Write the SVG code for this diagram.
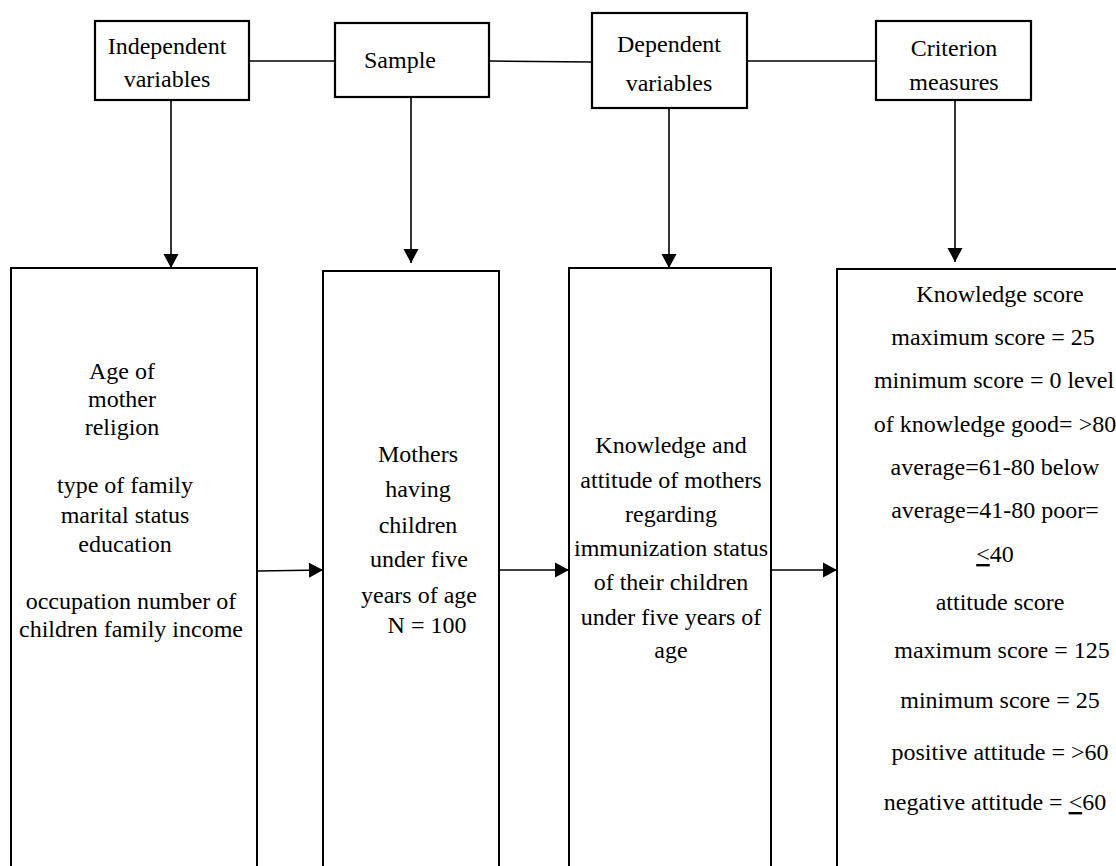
<svg xmlns="http://www.w3.org/2000/svg" width="1116" height="866" viewBox="0 0 1116 866">
<style>
.box{fill:#fff;stroke:#000;stroke-width:2.2}
.big{fill:#fff;stroke:#000;stroke-width:2}
.ln{fill:none;stroke:#000;stroke-width:1.6}
text{font-family:"Liberation Serif","Times New Roman",serif;font-size:24px;fill:#000;text-anchor:middle}
.u{text-decoration:underline}
</style>
<defs>
<marker id="ah" markerUnits="userSpaceOnUse" markerWidth="16" markerHeight="16" viewBox="0 0 16 16" refX="15" refY="8" orient="auto">
<path d="M1,0.5 L15,8 L1,15.5 Z" fill="#000"/>
</marker>
</defs>
<g id="connectors">
<line class="ln" x1="249" y1="61" x2="335" y2="61"/>
<line class="ln" x1="489" y1="61" x2="592" y2="62"/>
<line class="ln" x1="747" y1="61" x2="876" y2="61"/>
<line class="ln" x1="171" y1="100" x2="171" y2="268" marker-end="url(#ah)"/>
<line class="ln" x1="411" y1="97" x2="411" y2="263" marker-end="url(#ah)"/>
<line class="ln" x1="669" y1="108" x2="669" y2="268" marker-end="url(#ah)"/>
<line class="ln" x1="955" y1="100" x2="955" y2="262" marker-end="url(#ah)"/>
<line class="ln" x1="257" y1="571" x2="323" y2="570" marker-end="url(#ah)"/>
<line class="ln" x1="499" y1="570" x2="569" y2="570" marker-end="url(#ah)"/>
<line class="ln" x1="771" y1="570" x2="837" y2="570" marker-end="url(#ah)"/>
</g>
<g id="independent">
<rect class="box" x="95" y="21" width="154" height="79"/>
<text x="167" y="54">Independent</text>
<text x="167" y="87">variables</text>
</g>
<g id="sample">
<rect class="box" x="335" y="23" width="154" height="74"/>
<text x="400" y="68">Sample</text>
</g>
<g id="dependent">
<rect class="box" x="592" y="13" width="155" height="95"/>
<text x="669" y="52">Dependent</text>
<text x="669" y="91">variables</text>
</g>
<g id="criterion">
<rect class="box" x="876" y="21" width="155" height="79"/>
<text x="954" y="56">Criterion</text>
<text x="954" y="90">measures</text>
</g>
<g id="independent-list">
<rect class="big" x="11" y="268" width="246" height="640"/>
<text x="122" y="379">Age of</text>
<text x="122" y="407">mother</text>
<text x="122" y="435">religion</text>
<text x="125" y="493">type of family</text>
<text x="125" y="523">marital status</text>
<text x="125" y="552">education</text>
<text x="131" y="609">occupation number of</text>
<text x="131" y="637">children family income</text>
</g>
<g id="sample-detail">
<rect class="big" x="323" y="271" width="176" height="640"/>
<text x="418" y="462">Mothers</text>
<text x="418" y="497">having</text>
<text x="418" y="533">children</text>
<text x="419" y="567">under five</text>
<text x="419" y="603">years of age</text>
<text x="427" y="633">N = 100</text>
</g>
<g id="dependent-detail">
<rect class="big" x="569" y="268" width="202" height="640"/>
<text x="671" y="453">Knowledge and</text>
<text x="671" y="488">attitude of mothers</text>
<text x="671" y="522">regarding</text>
<text x="671" y="556">immunization status</text>
<text x="671" y="590">of their children</text>
<text x="671" y="625">under five years of</text>
<text x="671" y="658">age</text>
</g>
<g id="criterion-detail">
<path class="big" d="M1130,269 L837,269 L837,910"/>
<text x="1000" y="302">Knowledge score</text>
<text x="993" y="345">maximum score = 25</text>
<text x="994" y="388">minimum score = 0 level</text>
<text x="995" y="432">of knowledge good= &gt;80</text>
<text x="995" y="475">average=61-80 below</text>
<text x="995" y="518">average=41-80 poor=</text>
<text x="995" y="562"><tspan class="u">&lt;</tspan>40</text>
<text x="1000" y="610">attitude score</text>
<text x="1002" y="658">maximum score = 125</text>
<text x="1000" y="708">minimum score = 25</text>
<text x="1000" y="760">positive attitude = &gt;60</text>
<text x="995" y="810">negative attitude = <tspan class="u">&lt;</tspan>60</text>
</g>
</svg>
